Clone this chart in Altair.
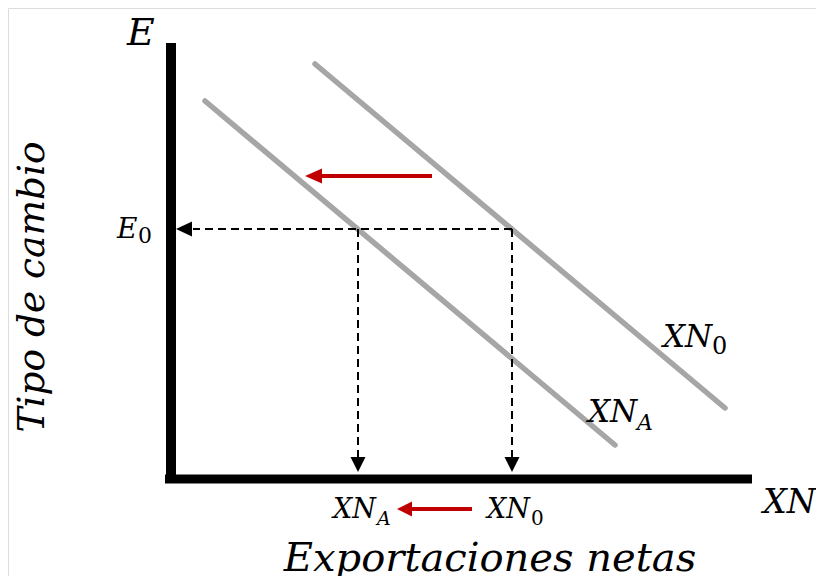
import altair as alt
import pandas as pd

# ---- values (arbitrary units, origin at the axes corner) ----
E0 = 250          # tipo de cambio inicial
XN_A_val = 187    # exportaciones netas tras el desplazamiento
XN_0_val = 341    # exportaciones netas iniciales

curve_names = ["XN_0", "XN_0", "XN_A", "XN_A"]
curve_x = [144, 554, 34, 444]
curve_y = [415, 71, 378, 34]

axis_x_end = 581
axis_y_end = 436

# ---- layout ----
W, H = 808, 568
x_dom = [-163, 645]
y_dom = [-97, 471]
FONT = "DejaVu Serif"
RED = "#c00000"

xs = alt.Scale(domain=x_dom, nice=False, zero=False)
ys = alt.Scale(domain=y_dom, nice=False, zero=False)
X = lambda f="x:Q": alt.X(f, scale=xs, axis=None)
Y = lambda f="y:Q": alt.Y(f, scale=ys, axis=None)

curves = pd.DataFrame({"curve": curve_names, "x": curve_x, "y": curve_y})
lines = alt.Chart(curves).mark_line(color="#a6a6a6", strokeWidth=5.5, strokeCap="round").encode(
    x=X(), y=Y(), detail="curve:N",
)

axis_v = alt.Chart(pd.DataFrame({"x": [0], "y": [-4], "y2": [axis_y_end]})).mark_rule(
    color="black", strokeWidth=10, strokeCap="butt").encode(x=X(), y=Y(), y2="y2:Q")
axis_h = alt.Chart(pd.DataFrame({"x": [-6], "x2": [axis_x_end], "y": [0]})).mark_rule(
    color="black", strokeWidth=9, strokeCap="butt").encode(x=X(), x2="x2:Q", y=Y())

dash_df = pd.DataFrame({
    "x": [XN_0_val, XN_A_val, XN_0_val],
    "x2": [22, XN_A_val, XN_0_val],
    "y": [E0, E0, E0],
    "y2": [E0, 22, 22],
})
dashes = alt.Chart(dash_df).mark_rule(color="black", strokeWidth=2, strokeDash=[8, 5]).encode(
    x=X(), x2="x2:Q", y=Y(), y2="y2:Q")

head_left = alt.Chart(pd.DataFrame({"x": [13], "y": [E0]})).mark_point(
    shape="M-1,0L1,-0.95L1,0.95Z", filled=True, opacity=1, color="black", size=256, strokeWidth=0
).encode(x=X(), y=Y())
head_down = alt.Chart(pd.DataFrame({"x": [XN_A_val, XN_0_val], "y": [14.5, 14.5]})).mark_point(
    shape="M-1,-1L1,-1L0,1Z", filled=True, opacity=1, color="black", size=225, strokeWidth=0
).encode(x=X(), y=Y())

red_df = pd.DataFrame({"x": [148, 238], "x2": [261, 301], "y": [303, -30]})
red_lines = alt.Chart(red_df).mark_rule(color=RED, strokeWidth=4).encode(x=X(), x2="x2:Q", y=Y())
red_head1 = alt.Chart(pd.DataFrame({"x": [142.5], "y": [303]})).mark_point(
    shape="M-1,0L1,-0.88L1,0.88Z", filled=True, opacity=1, color=RED, size=289, strokeWidth=0
).encode(x=X(), y=Y())
red_head2 = alt.Chart(pd.DataFrame({"x": [233.5], "y": [-30]})).mark_point(
    shape="M-1,0L1,-1L1,1Z", filled=True, opacity=1, color=RED, size=225, strokeWidth=0
).encode(x=X(), y=Y())

# ---- texts ----
label_text = ["E", "XN", "E", "0", "XN", "0", "XN", "A", "XN", "A", "XN", "0"]
label_x = [-44, 592, -54, -33, 492, 541, 417, 466, 162, 206, 316, 360]
label_y = [434, -34, 241, 236, 132, 125, 57, 49, -39, -46, -39, -46]
label_size = [38, 33.5, 28, 22, 31, 24, 31, 22, 27, 19, 27, 20]
label_style = ["italic", "italic", "italic", "normal", "italic", "normal",
               "italic", "italic", "italic", "italic", "italic", "normal"]

labels = pd.DataFrame({"t": label_text, "x": label_x, "y": label_y, "s": label_size, "st": label_style})
texts_it = alt.Chart(labels[labels.st == "italic"]).mark_text(
    font=FONT, fontStyle="italic", align="left", baseline="alphabetic", color="black"
).encode(x=X(), y=Y(), text="t:N", size=alt.Size("s:Q", scale=None, legend=None))
texts_up = alt.Chart(labels[labels.st == "normal"]).mark_text(
    font=FONT, fontStyle="normal", align="left", baseline="alphabetic", color="black"
).encode(x=X(), y=Y(), text="t:N", size=alt.Size("s:Q", scale=None, legend=None))

xtitle = alt.Chart(pd.DataFrame({"t": ["Exportaciones netas"], "x": [319], "y": [-92]})).mark_text(
    font=FONT, fontStyle="italic", fontSize=40, align="center", baseline="alphabetic", color="black"
).encode(x=X(), y=Y(), text="t:N")

ytitle = alt.Chart(pd.DataFrame({"t": ["Tipo de cambio"], "x": [-127], "y": [192]})).mark_text(
    font=FONT, fontStyle="italic", fontSize=37.5, angle=270, align="center", baseline="alphabetic", color="black"
).encode(x=X(), y=Y(), text="t:N")

chart = alt.layer(
    lines, dashes, axis_v, axis_h, head_left, head_down, red_lines, red_head1, red_head2,
    texts_it, texts_up, xtitle, ytitle
).properties(
    width=W, height=H, autosize=alt.AutoSizeParams(type="none"), padding=0
).configure_view(stroke=None).configure(background="white")

chart.save("out.html", embed_options={"renderer": "svg", "actions": False})
